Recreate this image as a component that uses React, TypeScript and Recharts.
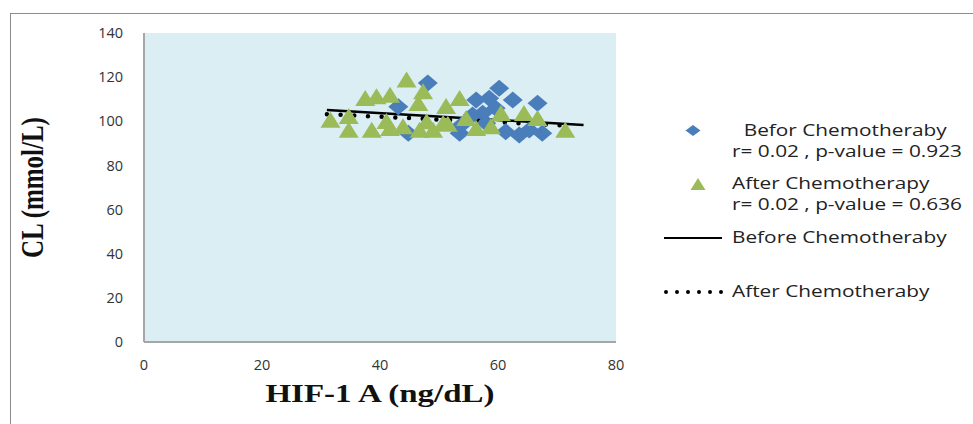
import {
  ComposedChart,
  Scatter,
  Line,
  XAxis,
  YAxis,
  Label,
  ReferenceArea,
} from "recharts";

// Before chemotherapy (blue diamonds)
const beforeX = [48.1, 43.1, 44.8, 60.2, 56.3, 58.5, 62.5, 66.7, 59.6, 57.4, 55.7, 61.3, 63.6, 65.3, 67.5, 53.8, 53.5, 58.0];
const beforeY = [117.3, 106.6, 94.6, 115.0, 109.6, 110.4, 109.6, 108.2, 105.9, 103.6, 102.9, 95.3, 93.8, 96.1, 94.6, 98.3, 94.6, 99.1];

// After chemotherapy (green triangles)
const afterX = [44.5, 47.3, 37.5, 39.4, 41.7, 46.5, 51.2, 31.6, 34.7, 34.7, 38.6, 41.1, 41.7, 43.9, 46.7, 49.0, 47.9, 50.7, 53.5, 54.6, 51.5, 56.3, 58.8, 60.5, 64.4, 66.7, 71.4];
const afterY = [118.0, 112.7, 109.6, 110.4, 111.1, 107.4, 106.0, 99.8, 101.5, 95.3, 95.3, 99.2, 96.0, 96.8, 95.3, 95.3, 99.1, 98.3, 109.6, 100.6, 98.0, 96.0, 96.8, 102.9, 102.9, 100.6, 95.3];

// trend lines (end points)
const beforeTrendX = [31.0, 74.5];
const beforeTrendY = [105.1, 98.3];
const afterTrendX = [31.0, 72.3];
const afterTrendY = [103.2, 98.0];

const xTicks = [0, 20, 40, 60, 80];
const yTicks = [0, 20, 40, 60, 80, 100, 120, 140];

const zip = (xs: number[], ys: number[]) => xs.map((x, i) => ({ x, y: ys[i] }));

const beforeData = zip(beforeX, beforeY);
const afterData = zip(afterX, afterY);
const beforeTrend = zip(beforeTrendX, beforeTrendY);
const afterTrend = zip(afterTrendX, afterTrendY);

const BLUE = "#4A7EBB";
const GREEN = "#9BBB59";
const FONT = "'Open Sans', sans-serif";
const SERIF = "'Liberation Serif', serif";

const Diamond = (props: any) => {
  const { cx, cy } = props;
  return (
    <path
      d={`M${cx},${cy - 8.5}L${cx + 10},${cy}L${cx},${cy + 8.5}L${cx - 10},${cy}Z`}
      fill={BLUE}
    />
  );
};

const Triangle = (props: any) => {
  const { cx, cy } = props;
  return (
    <path
      d={`M${cx},${cy - 10}L${cx + 10},${cy + 6}L${cx - 10},${cy + 6}Z`}
      fill={GREEN}
    />
  );
};

const XTitle = (props: any) => {
  const { viewBox } = props;
  const cx = viewBox.x + viewBox.width / 2;
  const cy = viewBox.y + viewBox.height + 30;
  return (
    <text
      transform={`translate(${cx},${cy}) scale(1.32,1)`}
      textAnchor="middle"
      fontFamily={SERIF}
      fontWeight="bold"
      fontSize={25}
      fill="#111"
    >
      HIF-1 A (ng/dL)
    </text>
  );
};

const YTitle = (props: any) => {
  const { viewBox } = props;
  const cy = viewBox.y + viewBox.height / 2;
  return (
    <text
      transform={`translate(43,${cy}) scale(1.25,1) rotate(-90)`}
      textAnchor="middle"
      fontFamily={SERIF}
      fontWeight="bold"
      fontSize={25}
      fill="#111"
    >
      CL (mmol/L)
    </text>
  );
};

const legendText: React.CSSProperties = {
  fontFamily: FONT,
  fontSize: 16,
  color: "#222",
  lineHeight: "21px",
  whiteSpace: "nowrap",
  transform: "scaleX(1.3)",
  transformOrigin: "left top",
};

const LegendBox = () => (
  <div style={{ position: "absolute", left: 660, top: 118, width: 313, height: 200 }}>
    <svg width={80} height={200} style={{ position: "absolute", left: 0, top: 0 }}>
      <path d="M33,7L40.5,12.5L33,18L25.5,12.5Z" fill={BLUE} />
      <path d="M38,60L45.5,72L30.5,72Z" fill={GREEN} />
      <line x1={4} x2={62} y1={120} y2={120} stroke="#000" strokeWidth={2} />
      <line
        x1={6}
        x2={62}
        y1={174}
        y2={174}
        stroke="#000"
        strokeWidth={4}
        strokeLinecap="round"
        strokeDasharray="0 11"
      />
    </svg>
    <div style={{ ...legendText, position: "absolute", left: 72, top: 2 }}>
      <div style={{ paddingLeft: 9 }}>Befor Chemotheraby</div>
      <div>r= 0.02 , p-value = 0.923</div>
    </div>
    <div style={{ ...legendText, position: "absolute", left: 72, top: 55 }}>
      <div>After Chemotherapy</div>
      <div>r= 0.02 , p-value = 0.636</div>
    </div>
    <div style={{ ...legendText, position: "absolute", left: 72, top: 109 }}>Before Chemotheraby</div>
    <div style={{ ...legendText, position: "absolute", left: 72, top: 163 }}>After Chemotheraby</div>
  </div>
);

export default function App() {
  return (
    <div
      style={{
        position: "absolute",
        left: 0,
        top: 0,
        width: 973,
        height: 424,
        background: "#fff",
        overflow: "hidden",
      }}
    >
      <div
        style={{
          position: "absolute",
          left: 10,
          top: 13,
          width: 1000,
          height: 500,
          borderLeft: "1.5px solid #8c8c8c",
          borderTop: "1.5px solid #8c8c8c",
        }}
      />
      <div style={{ position: "absolute", left: 0, top: 0 }}>
        <ComposedChart
          width={973}
          height={424}
          margin={{ top: 33, right: 357, bottom: 52, left: 83 }}
        >
          <ReferenceArea x1={0} x2={80} y1={0} y2={140} fill="#DBEEF4" fillOpacity={1} stroke="none" />
          <XAxis
            type="number"
            dataKey="x"
            domain={[0, 80]}
            ticks={xTicks}
            tickLine={false}
            axisLine={{ stroke: "#a6a6a6", strokeWidth: 2 }}
            tick={{ fontFamily: FONT, fontSize: 14.5, fill: "#333" }}
            tickMargin={12}
            height={30}
          >
            <Label content={<XTitle />} />
          </XAxis>
          <YAxis
            type="number"
            dataKey="y"
            domain={[0, 140]}
            ticks={yTicks}
            tickLine={false}
            axisLine={{ stroke: "#a6a6a6", strokeWidth: 2 }}
            tick={{ fontFamily: FONT, fontSize: 14.5, fill: "#333" }}
            tickMargin={15}
            width={61}
          >
            <Label content={<YTitle />} />
          </YAxis>
          <Scatter data={beforeData} shape={<Diamond />} isAnimationActive={false} />
          <Scatter data={afterData} shape={<Triangle />} isAnimationActive={false} />
          <Line
            data={beforeTrend}
            dataKey="y"
            stroke="#000"
            strokeWidth={2.5}
            dot={false}
            activeDot={false}
            isAnimationActive={false}
          />
          <Line
            data={afterTrend}
            dataKey="y"
            stroke="#000"
            strokeWidth={4.5}
            strokeLinecap="round"
            strokeDasharray="0 13.7"
            dot={false}
            activeDot={false}
            isAnimationActive={false}
          />
        </ComposedChart>
      </div>
      <LegendBox />
    </div>
  );
}
